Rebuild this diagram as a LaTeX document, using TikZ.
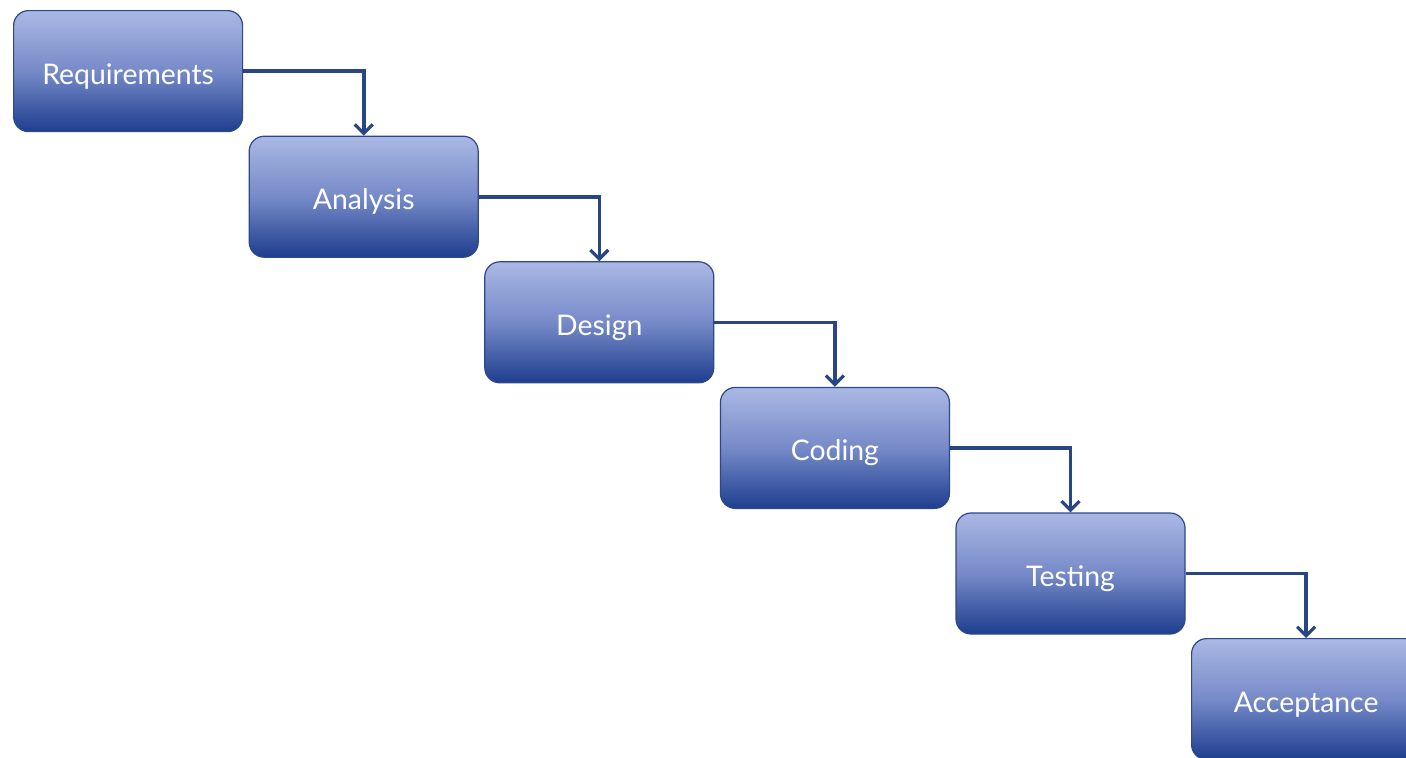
\documentclass[tikz,border=0pt]{standalone}
\usepackage{fontspec}
\setsansfont{Lato}
\usetikzlibrary{positioning,arrows.meta}

\definecolor{boxtop}{RGB}{170,184,228}
\definecolor{boxmid}{RGB}{118,138,200}
\definecolor{boxbot}{RGB}{30,62,142}
\definecolor{boxline}{RGB}{44,72,138}
\definecolor{flowline}{RGB}{40,70,134}

\begin{document}
\begin{tikzpicture}[x=0.5pt, y=-0.5pt, >={Straight Barb[length=4.5pt,width=9pt,line width=1.6pt]},
		stage/.style={draw=boxline, line width=0.6pt, rounded corners=7.5pt,
			top color=boxtop, bottom color=boxbot, middle color=boxmid,
			minimum width=114.5pt, minimum height=60.5pt,
			text height=15pt, text depth=2pt,
			font=\sffamily\fontsize{14.2}{16}\selectfont, text=white},
		flow/.style={->, draw=flowline, line width=1.8pt}]
	\useasboundingbox (0,0) rectangle (1406,757);
	\clip (0,0) rectangle (1406,757);
	
	\node[stage, anchor=north west] (req) at (13,10) {Requirements};
	\node[stage, below right=1.7pt and 2.7pt of req.south east, anchor=north west] (ana) {Analysis};
	\node[stage, below right=1.7pt and 2.7pt of ana.south east, anchor=north west] (des) {Design};
	\node[stage, below right=1.7pt and 2.7pt of des.south east, anchor=north west] (cod) {Coding};
	\node[stage, below right=1.7pt and 2.7pt of cod.south east, anchor=north west] (tst) {Testing};
	\node[stage, below right=1.7pt and 2.7pt of tst.south east, anchor=north west] (acc) {Acceptance};
	
	\draw[flow] (req.east) -| (ana.north);
	\draw[flow] (ana.east) -| (des.north);
	\draw[flow] (des.east) -| (cod.north);
	\draw[flow] (cod.east) -| (tst.north);
	\draw[flow] (tst.east) -| (acc.north);
\end{tikzpicture}
\end{document}
